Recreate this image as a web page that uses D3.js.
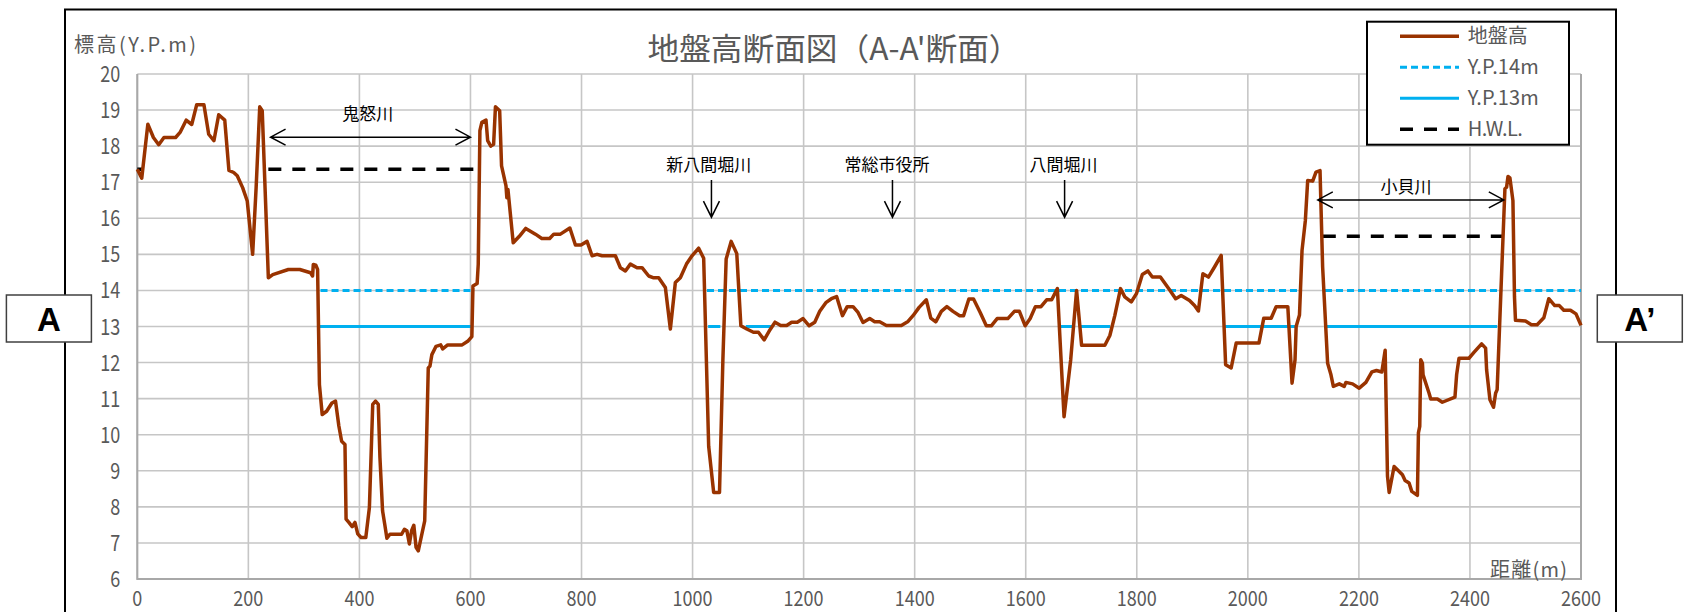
<!DOCTYPE html>
<html>
<head>
<meta charset="utf-8">
<script src="https://cdn.jsdelivr.net/npm/d3@7/dist/d3.min.js"></script>
<style>
body { margin: 0; background: #fff; }
</style>
</head>
<body>
<svg id="chart"></svg>
<script>

// distance (m) and ground level (Y.P. m) along the A-A' section
var distances = [0, 8, 19, 29, 38.6, 48, 69, 77, 88, 98, 107, 120, 128.6, 138, 146.6, 157.5, 165, 173.6, 180, 189.7,
        198, 207.7, 214, 220.5, 225, 236, 244, 272, 292.6, 312, 315.7, 317, 321.5, 324.7, 328, 333, 341, 350.5, 357, 363,
        368, 374, 376, 381, 387, 392, 397, 403, 411.5, 418, 424, 429, 434, 437, 441.7, 445.6, 449.5, 455, 476, 481,
        485.5, 490, 494, 498, 502, 506, 517.6, 524, 527, 530.5, 538, 546.5, 550, 559, 585, 595, 602.5, 604.5, 612, 614,
        617, 620.5, 628, 631, 636.6, 641.7, 645, 652.6, 656, 664, 665.5, 667.5, 677, 688, 699.6, 717, 728.5, 742.6, 750, 762,
        779, 789, 799, 810, 819, 828, 837, 861, 870, 879, 888, 900, 909, 921, 930, 939, 951, 960, 969, 978,
        989, 999, 1011, 1020, 1029, 1038, 1048.5, 1054.6, 1060.5, 1069.5, 1079.6, 1087, 1097.6, 1109.6, 1118.6, 1129, 1139.5, 1148.5, 1158.7, 1169.5,
        1178.4, 1188.6, 1199, 1210, 1220, 1229, 1240, 1250, 1259.4, 1270, 1278.5, 1289, 1298, 1307, 1319, 1328, 1337, 1349, 1376, 1388,
        1397, 1408, 1421, 1429, 1438, 1448, 1458, 1469, 1481, 1488, 1497.6, 1506, 1518, 1529, 1538, 1548.5, 1567.7, 1579.6, 1588.6, 1599,
        1608, 1617.4, 1627.5, 1637.7, 1646.7, 1657, 1669, 1681, 1691.6, 1700.6, 1742.5, 1751.5, 1760.5, 1770.7, 1778.4, 1790, 1799.4, 1810, 1820, 1828,
        1842.5, 1859, 1870, 1880, 1895, 1904, 1911, 1919, 1929, 1940, 1952, 1960, 1970, 1979, 2020, 2028.7, 2042, 2051, 2072, 2079.6,
        2085, 2087, 2093, 2097.6, 2103.6, 2107.8, 2116.8, 2122.7, 2130, 2134.7, 2143.7, 2149.7, 2154, 2164.7, 2173.6, 2176.6, 2188.6, 2200.6, 2212.6, 2223.4,
        2231.7, 2241.3, 2247.3, 2251.5, 2254.5, 2263.4, 2269.4, 2278.4, 2283.2, 2290.4, 2295.2, 2305.4, 2307.2, 2309.6, 2311.4, 2314.4, 2315.6, 2326.4, 2329.4, 2341.3,
        2350.3, 2373, 2376, 2380.3, 2398.2, 2407.2, 2421, 2428.2, 2430, 2436, 2442.5, 2446.2, 2449, 2457, 2463, 2466, 2468.5, 2472, 2477.4, 2480.2,
        2482, 2500, 2510.7, 2521, 2533, 2542, 2552.7, 2561, 2569, 2581, 2591, 2600]

var elevations = [17.36, 17.11, 18.61, 18.24, 18.04, 18.24, 18.24, 18.38, 18.72, 18.6, 19.15, 19.15, 18.33, 18.15, 18.87, 18.72, 17.33, 17.27, 17.18, 16.85,
        16.48, 15.0, 16.85, 19.09, 18.98, 14.35, 14.44, 14.58, 14.58, 14.49, 14.4, 14.72, 14.7, 14.58, 11.39, 10.56, 10.65, 10.88, 10.93, 10.24,
        9.82, 9.73, 7.66, 7.57, 7.45, 7.57, 7.25, 7.15, 7.15, 7.98, 10.84, 10.93, 10.84, 9.36, 7.89, 7.52, 7.13, 7.24, 7.24, 7.38,
        7.34, 6.97, 7.34, 7.49, 6.88, 6.78, 7.61, 11.85, 11.9, 12.22, 12.45, 12.49, 12.38, 12.49, 12.49, 12.59, 12.72, 14.12, 14.19, 14.72,
        18.43, 18.66, 18.72, 18.15, 18.0, 18.05, 19.09, 18.98, 17.45, 16.9, 16.57, 16.8, 15.32, 15.5, 15.72, 15.56, 15.44, 15.44, 15.56, 15.56,
        15.73, 15.26, 15.26, 15.36, 14.96, 15.0, 14.96, 14.96, 14.63, 14.54, 14.73, 14.63, 14.63, 14.4, 14.35, 14.35, 14.08, 12.93, 14.22, 14.35,
        14.73, 14.96, 15.17, 14.89, 9.68, 8.4, 8.4, 12.08, 14.87, 15.36, 15.02, 13.02, 12.93, 12.84, 12.84, 12.63, 12.91, 13.12, 13.03, 13.03,
        13.12, 13.12, 13.22, 13.02, 13.12, 13.42, 13.66, 13.77, 13.83, 13.3, 13.55, 13.55, 13.39, 13.11, 13.22, 13.13, 13.13, 13.03, 13.03, 13.14,
        13.3, 13.53, 13.74, 13.23, 13.13, 13.42, 13.55, 13.42, 13.3, 13.3, 13.76, 13.76, 13.39, 13.02, 13.02, 13.22, 13.22, 13.42, 13.42, 13.02,
        13.22, 13.55, 13.55, 13.74, 13.74, 14.05, 10.5, 12.08, 14.0, 12.48, 12.48, 12.75, 13.31, 14.05, 13.82, 13.68, 13.91, 14.44, 14.54, 14.37,
        14.37, 14.02, 13.77, 13.86, 13.72, 13.58, 13.43, 14.46, 14.37, 14.65, 14.97, 11.94, 11.85, 12.54, 12.54, 13.23, 13.23, 13.55, 13.55, 11.43,
        12.08, 13.0, 13.32, 15.11, 15.94, 17.05, 17.03, 17.28, 17.32, 14.65, 11.98, 11.66, 11.34, 11.41, 11.34, 11.45, 11.41, 11.29, 11.45, 11.74,
        11.78, 11.74, 12.34, 8.85, 8.4, 9.12, 9.03, 8.89, 8.73, 8.66, 8.43, 8.32, 10.05, 10.23, 12.08, 11.98, 11.66, 11.15, 10.99, 10.99,
        10.9, 11.04, 11.66, 12.12, 12.12, 12.28, 12.52, 12.4, 11.8, 10.97, 10.76, 11.15, 11.25, 14.46, 16.82, 16.86, 17.16, 17.12, 16.49, 13.82,
        13.17, 13.15, 13.05, 13.05, 13.24, 13.77, 13.58, 13.58, 13.45, 13.45, 13.35, 13.03]

// reference levels: [from m, to m]
var yp14Ranges = [[330, 600], [1026, 2094], [2139, 2458], [2478, 2600]]
var yp13Ranges = [[328, 604], [1028, 1050], [1096, 1143], [1663, 1686], [1697, 1752], [1958, 2087], [2141, 2449]]
// H.W.L.: [from m, to m, level]
var hwlRanges = [[0, 10, 17.36], [236, 608, 17.36], [2135, 2464, 15.5]]

var xTicks = [0, 200, 400, 600, 800, 1000, 1200, 1400, 1600, 1800, 2000, 2200, 2400, 2600]
var yTicks = [6, 7, 8, 9, 10, 11, 12, 13, 14, 15, 16, 17, 18, 19, 20]

var legendLabels = ["地盤高", "Y.P.14m", "Y.P.13m", "H.W.L."]

// river spans: name, from, to, arrow level, label level
var riverSpans = [
        {name: "鬼怒川", from: 240, to: 600, level: 18.25, labelAt: 415, labelLevel: 18.88},
        {name: "小貝川", from: 2126, to: 2461, level: 16.51, labelAt: 2285, labelLevel: 16.88}
]
// point labels with a down arrow
var pointMarks = [
        {name: "新八間堀川", labelAt: 1029, arrowAt: 1034},
        {name: "常総市役所", labelAt: 1350, arrowAt: 1360},
        {name: "八間堀川", labelAt: 1668, arrowAt: 1670}
]

var dimensions = {
        width: 1695,
        height: 612,
        margin: {
                top: 74,
                bottom: 33,
                right: 114,
                left: 137.3
        }
}
dimensions.boundedWidth = dimensions.width - dimensions.margin.left - dimensions.margin.right
dimensions.boundedHeight = dimensions.height - dimensions.margin.top - dimensions.margin.bottom

var gray = "#595959"
var jp = "'Noto Sans CJK JP', 'Noto Sans', sans-serif"

var svg = d3.select("#chart")
        .attr("width", dimensions.width)
        .attr("height", dimensions.height)
        .style("font-family", jp)

// outer chart frame
svg.append("rect")
        .attr("x", 65).attr("y", 9.5)
        .attr("width", 1551).attr("height", 700)
        .attr("fill", "white")
        .attr("stroke", "black")
        .attr("stroke-width", 2)

svg.append("text")
        .attr("x", 834).attr("y", 60)
        .attr("text-anchor", "middle")
        .attr("font-size", 31)
        .attr("textLength", 373)
        .attr("lengthAdjust", "spacingAndGlyphs")
        .attr("fill", gray)
        .text("地盤高断面図（A-A'断面）")

svg.append("text")
        .attr("x", 74).attr("y", 52)
        .attr("font-size", 20)
        .attr("textLength", 122)
        .attr("lengthAdjust", "spacing")
        .attr("fill", gray)
        .text("標高(Y.P.m)")

var bounds = svg.append("g")
        .attr("transform", "translate(" + dimensions.margin.left + "," + dimensions.margin.top + ")")

var xScale = d3.scaleLinear()
        .domain([0, 2600])
        .range([0, dimensions.boundedWidth])

var yScale = d3.scaleLinear()
        .domain([6, 20])
        .range([dimensions.boundedHeight, 0])

bounds.append("rect")
        .attr("width", dimensions.boundedWidth)
        .attr("height", dimensions.boundedHeight)
        .attr("fill", "white")

// gridlines
bounds.selectAll(".vgrid")
        .data(xTicks)
        .enter()
        .append("line")
        .attr("x1", function(d) { return xScale(d) })
        .attr("x2", function(d) { return xScale(d) })
        .attr("y1", 0)
        .attr("y2", dimensions.boundedHeight)
        .attr("stroke", "#c6c6c6")
        .attr("stroke-width", 1.6)

bounds.selectAll(".hgrid")
        .data(yTicks)
        .enter()
        .append("line")
        .attr("x1", 0)
        .attr("x2", dimensions.boundedWidth)
        .attr("y1", function(d) { return yScale(d) })
        .attr("y2", function(d) { return yScale(d) })
        .attr("stroke", "#c6c6c6")
        .attr("stroke-width", 1.6)

// axis lines (left, bottom, right)
bounds.append("path")
        .attr("d", "M0,0V" + dimensions.boundedHeight + "H" + dimensions.boundedWidth + "V0")
        .attr("fill", "none")
        .attr("stroke", "#a8a8a8")
        .attr("stroke-width", 2)

// tick labels
bounds.selectAll(".ylabel")
        .data(yTicks)
        .enter()
        .append("text")
        .attr("x", -17)
        .attr("y", function(d) { return yScale(d) + 8 })
        .attr("text-anchor", "end")
        .attr("font-size", 22)
        .attr("textLength", function(d) { return String(d).length * 10 })
        .attr("lengthAdjust", "spacingAndGlyphs")
        .attr("fill", gray)
        .text(function(d) { return d })

bounds.selectAll(".xlabel")
        .data(xTicks)
        .enter()
        .append("text")
        .attr("x", function(d) { return xScale(d) })
        .attr("y", dimensions.boundedHeight + 27)
        .attr("text-anchor", "middle")
        .attr("font-size", 21)
        .attr("textLength", function(d) { return String(d).length * 10 })
        .attr("lengthAdjust", "spacingAndGlyphs")
        .attr("fill", gray)
        .text(function(d) { return d })

bounds.append("text")
        .attr("x", xScale(2600) - 14)
        .attr("y", dimensions.boundedHeight - 2)
        .attr("text-anchor", "end")
        .attr("font-size", 20)
        .attr("textLength", 77)
        .attr("lengthAdjust", "spacing")
        .attr("fill", gray)
        .text("距離(m)")

// reference levels
bounds.selectAll(".yp14")
        .data(yp14Ranges)
        .enter()
        .append("line")
        .attr("x1", function(d) { return xScale(d[0]) })
        .attr("x2", function(d) { return xScale(d[1]) })
        .attr("y1", yScale(14))
        .attr("y2", yScale(14))
        .attr("stroke", "#00b0f0")
        .attr("stroke-width", 3)
        .attr("stroke-dasharray", "7,4")

bounds.selectAll(".yp13")
        .data(yp13Ranges)
        .enter()
        .append("line")
        .attr("x1", function(d) { return xScale(d[0]) })
        .attr("x2", function(d) { return xScale(d[1]) })
        .attr("y1", yScale(13))
        .attr("y2", yScale(13))
        .attr("stroke", "#00b0f0")
        .attr("stroke-width", 3)

bounds.selectAll(".hwl")
        .data(hwlRanges)
        .enter()
        .append("line")
        .attr("x1", function(d) { return xScale(d[0]) })
        .attr("x2", function(d) { return xScale(d[1]) })
        .attr("y1", function(d) { return yScale(d[2]) })
        .attr("y2", function(d) { return yScale(d[2]) })
        .attr("stroke", "black")
        .attr("stroke-width", 3.5)
        .attr("stroke-dasharray", "13,11")

// ground profile
var line = d3.line()
        .x(function(d, i) { return xScale(distances[i]) })
        .y(function(d) { return yScale(d) })

bounds.append("path")
        .datum(elevations)
        .attr("d", line)
        .attr("fill", "none")
        .attr("stroke", "#993300")
        .attr("stroke-width", 3.5)
        .attr("stroke-linejoin", "round")

// annotations
var spans = bounds.selectAll(".span")
        .data(riverSpans)
        .enter()
        .append("g")

spans.append("path")
        .attr("d", function(d) {
                var x1 = xScale(d.from), x2 = xScale(d.to), y = yScale(d.level)
                return "M" + x1 + "," + y + "H" + x2
                        + "M" + (x1 + 15) + "," + (y - 8) + "L" + x1 + "," + y + "L" + (x1 + 15) + "," + (y + 8)
                        + "M" + (x2 - 15) + "," + (y - 8) + "L" + x2 + "," + y + "L" + (x2 - 15) + "," + (y + 8)
        })
        .attr("fill", "none")
        .attr("stroke", "black")
        .attr("stroke-width", 1.5)

spans.append("text")
        .attr("x", function(d) { return xScale(d.labelAt) })
        .attr("y", function(d) { return yScale(d.labelLevel) + 6 })
        .attr("text-anchor", "middle")
        .attr("font-size", 17)
        .text(function(d) { return d.name })

var marks = bounds.selectAll(".mark")
        .data(pointMarks)
        .enter()
        .append("g")

marks.append("path")
        .attr("d", function(d) {
                var x = xScale(d.arrowAt), y1 = yScale(17.06), y2 = yScale(16.03)
                return "M" + x + "," + y1 + "V" + y2
                        + "M" + (x - 8) + "," + (y2 - 16) + "L" + x + "," + y2 + "L" + (x + 8) + "," + (y2 - 16)
        })
        .attr("fill", "none")
        .attr("stroke", "black")
        .attr("stroke-width", 1.5)

marks.append("text")
        .attr("x", function(d) { return xScale(d.labelAt) })
        .attr("y", yScale(17.49) + 6)
        .attr("text-anchor", "middle")
        .attr("font-size", 17)
        .text(function(d) { return d.name })

// legend
var legend = svg.append("g")
        .attr("transform", "translate(1367,21.7)")

legend.append("rect")
        .attr("width", 202)
        .attr("height", 123)
        .attr("fill", "white")
        .attr("stroke", "black")
        .attr("stroke-width", 2)

var legendStyles = [
        {color: "#993300", dash: null, width: 3.5, textLen: 60},
        {color: "#00b0f0", dash: "7,4", width: 3, textLen: 71},
        {color: "#00b0f0", dash: null, width: 3, textLen: 71},
        {color: "black", dash: "13,11", width: 3.5, textLen: 55}
]

var rows = legend.selectAll(".row")
        .data(legendLabels)
        .enter()
        .append("g")
        .attr("transform", function(d, i) { return "translate(0," + (14.5 + i * 31) + ")" })

rows.append("line")
        .attr("x1", 33).attr("x2", 92)
        .attr("stroke", function(d, i) { return legendStyles[i].color })
        .attr("stroke-width", function(d, i) { return legendStyles[i].width })
        .attr("stroke-dasharray", function(d, i) { return legendStyles[i].dash })

rows.append("text")
        .attr("x", 100.7)
        .attr("y", 7)
        .attr("font-size", 20)
        .attr("textLength", function(d, i) { return legendStyles[i].textLen })
        .attr("lengthAdjust", "spacing")
        .attr("fill", gray)
        .text(function(d) { return d })

// section end markers
var ends = svg.selectAll(".endbox")
        .data([{x: 6.4, label: "A"}, {x: 1597.3, label: "A’"}])
        .enter()
        .append("g")

ends.append("rect")
        .attr("x", function(d) { return d.x })
        .attr("y", 295)
        .attr("width", 85)
        .attr("height", 47)
        .attr("fill", "white")
        .attr("stroke", "#404040")
        .attr("stroke-width", 1.5)

ends.append("text")
        .attr("x", function(d) { return d.x + 42.5 })
        .attr("y", 331)
        .attr("text-anchor", "middle")
        .attr("font-family", "'Liberation Sans', Arial, sans-serif")
        .attr("font-weight", "bold")
        .attr("font-size", 33)
        .text(function(d) { return d.label })

</script>
</body>
</html>
